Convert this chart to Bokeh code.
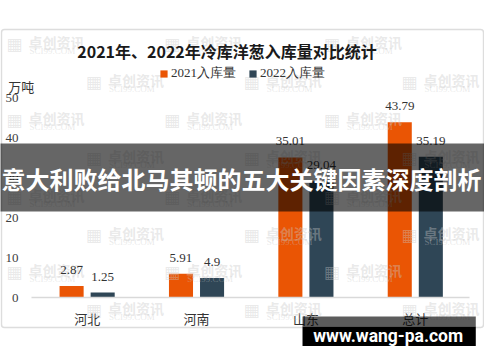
from bokeh.plotting import figure
from bokeh.models import (ColumnDataSource, Range1d, LabelSet, Label, LinearAxis,
                          BoxAnnotation, Legend, LegendItem, FixedTicker)
from bokeh.transform import dodge
from bokeh.core.properties import value
from bokeh.embed import file_html
from bokeh.resources import INLINE

# ---- data ----
categories = ["河北", "河南", "山东", "总计"]
inbound_2021 = [2.87, 5.91, 35.01, 43.79]
inbound_2022 = [1.25, 4.9, 29.04, 35.19]
series_names = ["2021入库量", "2022入库量"]
y_ticks = [0, 10, 20, 30, 40, 50]
title_text = "2021年、2022年冷库洋葱入库量对比统计"
unit_text = "万吨"
banner_text = "意大利败给北马其顿的五大关键因素深度剖析"
site_text = "www.wang-pa.com"
watermark_cn = "卓创资讯"
watermark_en = "SCI99.COM"

ORANGE = "#EA5504"
DARK = "#2F4656"
CJK = "Noto Sans CJK SC"
SERIF = "Liberation Serif"

W, H = 484, 346
SX = 0.968          # horizontal squeeze of the 500px reference into 484px
UNIT = 113 * SX     # pixels per category
DY = 3              # vertical shift (px) of the reference into the canvas


def xd(ref_x):      # reference pixel -> x data (category index units)
    return (ref_x * SX - 89.5 * SX) / UNIT


def yd(ref_y):      # reference pixel -> y data (万吨)
    return (300 - ref_y) / 4.0


x_pos = list(range(len(categories)))

p = figure(width=W, height=H, title=None,
           x_range=Range1d(xd(0), xd(500)), y_range=Range1d(yd(H + DY), yd(DY)),
           output_backend="svg", toolbar_location=None,
           x_axis_type=None, y_axis_type=None,
           min_border=0)
p.outline_line_color = None
p.xgrid.visible = False
p.ygrid.visible = False
p.background_fill_color = "white"
p.border_fill_color = "white"

# ---- watermark (faint) ----
wm_rows = [37, 75, 113, 151, 190, 228, 265, 303]
for i, ry in enumerate(wm_rows):
    cols = [5, 168, 333] if i % 2 == 0 else [87, 250, 413]
    for rx in cols:
        p.add_layout(Label(x=xd(rx + 24), y=yd(ry + 7), text=watermark_cn,
                           text_align="left", text_baseline="middle",
                           text_font=CJK, text_font_style="bold", text_font_size="14px",
                           text_color="#c8c8c8", text_alpha=0.4))
        p.add_layout(Label(x=xd(rx + 25), y=yd(ry + 16), text=watermark_en,
                           text_align="left", text_baseline="middle",
                           text_font=SERIF, text_font_size="9px",
                           text_color="#c8c8c8", text_alpha=0.4))
        p.add_layout(Label(x=xd(rx + 1), y=yd(ry + 9), text="▦",
                           text_align="left", text_baseline="middle",
                           text_font="DejaVu Sans", text_font_size="17px",
                           text_color="#c8c8c8", text_alpha=0.4))

# ---- bars ----
src = ColumnDataSource(dict(
    x=x_pos, y21=inbound_2021, y22=inbound_2022,
    l21=[str(v) for v in inbound_2021], l22=[str(v) for v in inbound_2022]))

r1 = p.vbar(x=dodge("x", -0.142), top="y21", width=0.22,
            source=src, fill_color=ORANGE, line_color=None)
r2 = p.vbar(x=dodge("x", 0.142), top="y22", width=0.22,
            source=src, fill_color=DARK, line_color=None)

for col, ycol, off in (("l21", "y21", -0.142), ("l22", "y22", 0.142)):
    p.add_layout(LabelSet(x=dodge("x", off), y=ycol, text=col, source=src,
                          text_align="center", text_baseline="bottom", y_offset=12,
                          text_font=value(SERIF), text_font_size=value("13px"),
                          text_color="#333333"))

# ---- axes (fixed inside the frame) ----
yaxis = LinearAxis(fixed_location=xd(33), ticker=FixedTicker(ticks=y_ticks))
yaxis.axis_line_color = None
yaxis.major_tick_line_color = None
yaxis.minor_tick_line_color = None
yaxis.major_tick_out = 0
yaxis.major_tick_in = 0
yaxis.major_label_standoff = 14
yaxis.major_label_text_font = SERIF
yaxis.major_label_text_font_size = "13px"
yaxis.major_label_text_color = "#404040"
p.add_layout(yaxis, "left")

xaxis = LinearAxis(fixed_location=0, ticker=FixedTicker(ticks=x_pos),
                   major_label_overrides={i: c for i, c in zip(x_pos, categories)},
                   bounds=(xd(32), xd(485)))
xaxis.axis_line_color = "#D9D9D9"
xaxis.axis_line_width = 1.5
xaxis.major_tick_line_color = None
xaxis.minor_tick_line_color = None
xaxis.major_tick_out = 0
xaxis.major_tick_in = 0
xaxis.major_label_standoff = 11
xaxis.major_label_text_font = CJK
xaxis.major_label_text_font_size = "13px"
xaxis.major_label_text_color = "#333333"
p.add_layout(xaxis, "below")

# ---- legend ----
legend = Legend(items=[LegendItem(label=series_names[0], renderers=[r1]),
                       LegendItem(label=series_names[1], renderers=[r2])],
                orientation="horizontal", location=(159, 264),
                glyph_width=9, glyph_height=9, label_standoff=3, spacing=12,
                padding=0, margin=0, border_line_color=None, background_fill_alpha=0,
                label_text_font=SERIF, label_text_font_size="13px",
                label_text_color="#333333", label_height=13)
p.add_layout(legend)

# ---- title & unit ----
p.add_layout(Label(x=xd(234), y=yd(53), text=title_text, text_align="center",
                   text_baseline="middle", text_font=CJK, text_font_style="bold",
                   text_font_size="16px", text_color="#1a1a1a"))
p.add_layout(Label(x=xd(8), y=yd(89), text=unit_text, text_align="left",
                   text_baseline="middle", text_font=CJK,
                   text_font_size="13px", text_color="#333333"))

# ---- chart border ----
p.add_layout(BoxAnnotation(left=xd(1), right=xd(499), top=yd(32), bottom=yd(330),
                           fill_alpha=0, line_color="#8f8f8f", line_width=1.5,
                           border_radius=3))

# ---- overlay banner ----
p.add_layout(BoxAnnotation(left=xd(-20), right=xd(520), top=yd(146), bottom=yd(214),
                           fill_color="black", fill_alpha=0.6, line_alpha=0))
p.add_layout(Label(x=xd(249), y=yd(181), text=banner_text, text_align="center",
                   text_baseline="middle", text_font=CJK, text_font_style="bold",
                   text_font_size="24px", text_color="white"))

# ---- site stamp ----
p.add_layout(BoxAnnotation(left=xd(312), right=xd(491), top=yd(319), bottom=yd(329),
                           fill_color="black", fill_alpha=0.64, line_alpha=0))
p.add_layout(BoxAnnotation(left=xd(312), right=xd(491), top=yd(329), bottom=yd(360),
                           fill_color="black", fill_alpha=1, line_alpha=0))
p.add_layout(Label(x=xd(400.5), y=yd(338.5), text=site_text, text_align="center",
                   text_baseline="middle", text_font="Roboto", text_font_style="bold",
                   text_font_size="17.5px", text_color="white"))

open("out.html", "w").write(file_html(p, INLINE))
